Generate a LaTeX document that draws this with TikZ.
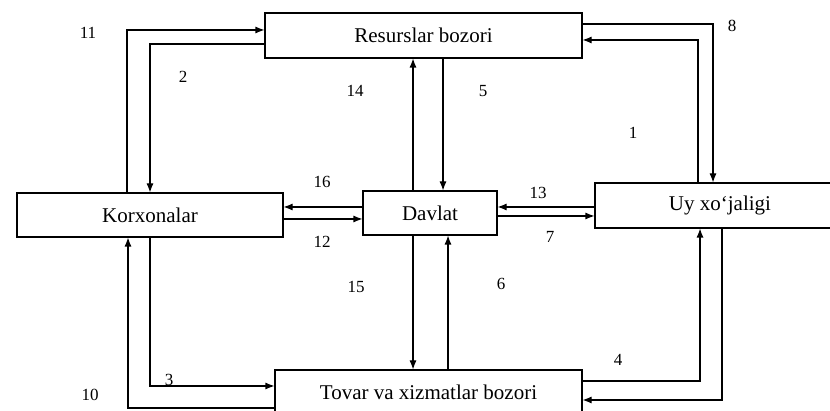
\documentclass[tikz,border=0pt]{standalone}
\usepackage{fontspec}
\setmainfont{Liberation Serif}
\usetikzlibrary{arrows.meta}
\tikzset{%
  blok/.style={draw,line width=1.1pt,inner sep=0pt,font=\fontsize{21}{25}\selectfont},
  oqim/.style={line width=1.1pt,-{Latex[length=9pt,width=7pt]}},
  raqam/.style={inner sep=0pt,font=\fontsize{17}{20}\selectfont},
}
\begin{document}
\begin{tikzpicture}[x=1pt,y=-1pt]
  \useasboundingbox (0,0) rectangle (830,411);
  \clip (0,0) rectangle (830,411);
  % bloklar
  \node[blok,minimum width=317pt,minimum height=45pt] (res) at (423.5,35.5) {Resurslar bozori};
  \node[blok,minimum width=266pt,minimum height=44pt] (kor) at (150,215) {Korxonalar};
  \node[blok,minimum width=134pt,minimum height=44pt] (dav) at (430,213) {Davlat};
  \node[blok,minimum width=250pt,minimum height=45pt] (uy) at (720,205.5) {Uy xo`jaligi};
  \node[blok,minimum width=307pt,minimum height=44pt] (tov) at (428.5,392) {Tovar va xizmatlar bozori};
  % oqimlar
  \draw[oqim] ([xshift=-23pt]kor.north) |- ([yshift=5.5pt]res.west);
  \draw[oqim] ([yshift=-8.5pt]res.west) -| (kor.north);
  \draw[oqim] ([xshift=-17pt]dav.north) -- ([xshift=-17pt]dav.north |- res.south);
  \draw[oqim] ([xshift=13pt]dav.north |- res.south) -- ([xshift=13pt]dav.north);
  \draw[oqim] ([yshift=11.5pt]res.east) -| ([xshift=-7pt]uy.north);
  \draw[oqim] ([xshift=-22pt]uy.north) |- ([yshift=-4.5pt]res.east);
  \draw[oqim] ([yshift=6pt]dav.west) -- ([yshift=6pt]dav.west -| kor.east);
  \draw[oqim] ([yshift=-6pt]dav.west -| kor.east) -- ([yshift=-6pt]dav.west);
  \draw[oqim] ([yshift=6pt]dav.east -| uy.west) -- ([yshift=6pt]dav.east);
  \draw[oqim] ([yshift=-3pt]dav.east) -- ([yshift=-3pt]dav.east -| uy.west);
  \draw[oqim] ([xshift=-17pt]dav.south) -- ([xshift=-17pt]dav.south |- tov.north);
  \draw[oqim] ([xshift=18pt]dav.south |- tov.north) -- ([xshift=18pt]dav.south);
  \draw[oqim] (kor.south) |- ([yshift=6pt]tov.west);
  \draw[oqim] ([yshift=-16pt]tov.west) -| ([xshift=-22pt]kor.south);
  \draw[oqim] ([yshift=11pt]tov.east) -| ([xshift=-20pt]uy.south);
  \draw[oqim] ([xshift=2pt]uy.south) |- ([yshift=-8pt]tov.east);
  % raqamlar
  \node[raqam] (n1) at (633,133) {1};
  \node[raqam] (n2) at (183,77) {2};
  \node[raqam] (n3) at (169,380) {3};
  \node[raqam] (n4) at (618,360) {4};
  \node[raqam] (n5) at (483,91) {5};
  \node[raqam] (n6) at (501,284) {6};
  \node[raqam] (n7) at (550,237) {7};
  \node[raqam] (n8) at (732,26) {8};
  \node[raqam] (n10) at (90,395) {10};
  \node[raqam] (n11) at (88,33) {11};
  \node[raqam] (n12) at (322,242) {12};
  \node[raqam] (n13) at (538,193) {13};
  \node[raqam] (n14) at (355,91) {14};
  \node[raqam] (n15) at (356,287) {15};
  \node[raqam] (n16) at (322,182) {16};
\end{tikzpicture}
\end{document}
